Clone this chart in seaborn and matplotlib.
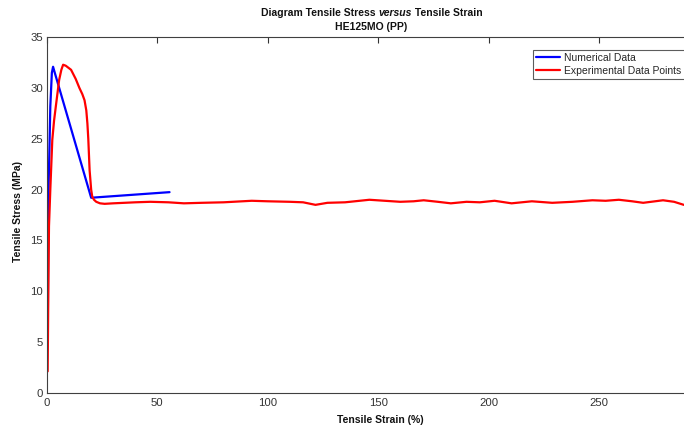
import matplotlib
matplotlib.use("Agg")
import matplotlib.pyplot as plt
import seaborn as sns
import pandas as pd

# ---- data ----
num_strain = [0.4, 0.5, 0.7, 1.1, 1.5, 2.2, 2.75, 3.4, 20.0, 55.5]
num_stress = [8.2, 13.0, 20.0, 24.0, 28.2, 31.5, 32.1, 31.6, 19.2, 19.75]

exp_strain = [0.3, 0.45, 0.6, 0.9, 1.5, 2.4, 3.2, 4.0, 5.5, 6.5, 7.3, 8.5, 10.9, 13.0,
              14.7, 16.0, 17.0, 17.8, 18.3, 18.7, 19.3, 20.0, 20.5, 21.3, 22.3, 24.0,
              26.1, 30.0, 35.0, 40.0, 46.8, 55.0, 62.0, 70.0, 80.0, 92.7, 100.0, 110.0,
              116.0, 121.6, 127.0, 135.0, 146.0, 153.0, 160.0, 166.0, 170.6, 177.0,
              182.9, 190.0, 196.0, 202.7, 210.4, 219.6, 228.8, 238.0, 247.0, 253.0,
              259.0, 265.0, 270.0, 279.0, 284.0, 288.4, 291.7, 293.0]
exp_stress = [2.1, 6.0, 10.0, 16.4, 20.0, 24.9, 26.8, 28.2, 30.8, 31.8, 32.3, 32.2, 31.8,
              30.9, 30.0, 29.4, 28.8, 27.8, 26.5, 25.0, 21.9, 20.0, 19.3, 19.0, 18.8,
              18.65, 18.6, 18.65, 18.7, 18.75, 18.8, 18.75, 18.65, 18.7, 18.75, 18.9,
              18.85, 18.8, 18.75, 18.5, 18.7, 18.75, 19.0, 18.9, 18.8, 18.85, 18.95,
              18.8, 18.65, 18.8, 18.75, 18.9, 18.65, 18.85, 18.7, 18.8, 18.95, 18.9,
              19.0, 18.85, 18.7, 18.95, 18.8, 18.5, 18.55, 18.55]

x_ticks = [0, 50, 100, 150, 200, 250]
y_ticks = [0, 5, 10, 15, 20, 25, 30, 35]

sns.set_style("white")
plt.rcParams['font.family'] = ['Liberation Sans', 'DejaVu Sans']

fig = plt.figure(figsize=(6.84, 4.26), dpi=100)
ax = fig.add_axes([47 / 684, 1 - 392.7 / 426, (694 - 47) / 684, (392.7 - 37.3) / 426])

sns.lineplot(x=num_strain, y=num_stress, ax=ax, sort=False, estimator=None,
             color=(0, 0, 1), lw=1.6, label="Numerical Data")
sns.lineplot(x=exp_strain, y=exp_stress, ax=ax, sort=False, estimator=None,
             color=(1, 0, 0), lw=1.6, label="Experimental Data Points")

ax.set_xlim(0, (694 - 47) / 2.208)
ax.set_ylim(0, 35)
ax.set_xticks(x_ticks)
ax.set_yticks(y_ticks)
ax.tick_params(direction='in', length=4, width=0.8, top=True, right=True,
               labelsize=8.2, colors='#333333', labelcolor='#333333', pad=3)
ax.tick_params(axis='x', pad=4)
for s in ax.spines.values():
    s.set_color('#404040')
    s.set_linewidth(0.8)

ax.set_xlabel("")
ax.set_ylabel("")
fig.text(380 / 684, 1 - 420 / 426, "Tensile Strain (%)", ha='center', va='center',
         fontsize=7.5, fontweight='bold', color='#111111')
fig.text(18 / 684, 1 - 212 / 426, "Tensile Stress (MPa)", ha='center', va='center',
         rotation=90, fontsize=7.5, fontweight='bold', color='#111111')

# title with italic "versus"
parts = [("Diagram Tensile Stress ", 'normal'), ("versus", 'italic'), (" Tensile Strain", 'normal')]
fig.canvas.draw()
r = fig.canvas.get_renderer()
texts = []
for s, st in parts:
    t = fig.text(0, 1 - 13.5 / 426, s, ha='left', va='center', fontsize=7.5,
                 fontweight='bold', fontstyle=st, color='#111111')
    texts.append(t)
widths = [t.get_window_extent(r).width for t in texts]
total = sum(widths)
x0 = 371.5 - total / 2
for t, w in zip(texts, widths):
    t.set_x(x0 / 684)
    x0 += w
fig.text(371.5 / 684, 1 - 27 / 426, "HE125MO (PP)", ha='center', va='center',
         fontsize=7.5, fontweight='bold', color='#111111')

leg = ax.legend(loc='upper left', bbox_to_anchor=(533 / 684, 1 - 50 / 426),
                bbox_transform=fig.transFigure, fontsize=7.5, frameon=True,
                fancybox=False, handlelength=2.3, handletextpad=0.4,
                borderpad=0.3, labelspacing=0.25, borderaxespad=0)
leg.get_frame().set_edgecolor('#333333')
leg.get_frame().set_linewidth(0.8)

fig.savefig("out.png", dpi=100)
